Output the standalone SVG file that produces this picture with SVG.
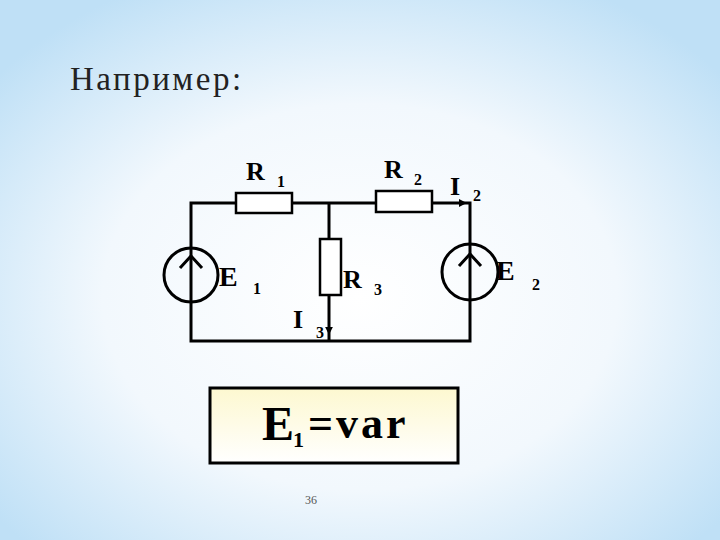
<svg xmlns="http://www.w3.org/2000/svg" width="720" height="540" viewBox="0 0 720 540">
<defs>
<radialGradient id="bg" cx="0.5" cy="0.55" r="0.65">
<stop offset="0" stop-color="#ffffff"/><stop offset="0.55" stop-color="#f2f8fd"/><stop offset="1" stop-color="#bfe0f6"/>
</radialGradient>
<linearGradient id="fb" x1="0" y1="0" x2="0" y2="1">
<stop offset="0" stop-color="#fdf8d0"/><stop offset="1" stop-color="#ffffff"/>
</linearGradient>
<marker id="ar" viewBox="0 0 10 10" refX="9" refY="5" markerWidth="4" markerHeight="4" orient="auto"><path d="M0,0 L10,5 L0,10 z" fill="#000"/></marker>
<style>
.w{stroke:#000;stroke-width:3;fill:none}
.r{stroke:#000;stroke-width:2.5;fill:#fff}
.t{font-family:'Liberation Serif',serif;font-weight:bold;fill:#000}
</style>
</defs>
<rect width="720" height="540" fill="url(#bg)"/>
<text x="70" y="90" font-family="Liberation Serif, DejaVu Serif, serif" font-size="33" fill="#222" letter-spacing="2.5">Например:</text>
<g id="connectors">
<polyline class="w" points="191,248 191,203 470,203 470,244"/>
<polyline class="w" points="191,302 191,341 470,341 470,300"/>
<line class="w" x1="329" y1="203" x2="329" y2="341"/>
<line x1="432" y1="203" x2="466" y2="203" stroke="#000" stroke-width="2" marker-end="url(#ar)"/>
<line x1="329" y1="320" x2="329" y2="334" stroke="#000" stroke-width="2" marker-end="url(#ar)"/>
</g>
<g id="R1"><rect class="r" x="236" y="193" width="56" height="20"/><text class="t" x="246" y="180" font-size="26">R</text><text class="t" x="277" y="187" font-size="16">1</text></g>
<g id="R2"><rect class="r" x="376" y="191" width="56" height="21"/><text class="t" x="384" y="178" font-size="26">R</text><text class="t" x="414" y="185" font-size="16">2</text></g>
<g id="R3"><rect class="r" x="320" y="239" width="21" height="56"/><text class="t" x="343" y="288" font-size="26">R</text><text class="t" x="374" y="295" font-size="16">3</text></g>
<g id="E1"><circle cx="191" cy="275" r="27" class="w"/><line class="w" x1="191" y1="248" x2="191" y2="302"/><polyline class="w" points="180,268 191,256 202,268"/><text class="t" x="219" y="286" font-size="28">E</text><text class="t" x="253" y="294" font-size="16">1</text></g>
<g id="E2"><circle cx="470" cy="272" r="28" class="w"/><line class="w" x1="470" y1="244" x2="470" y2="300"/><polyline class="w" points="459,266 470,254 481,266"/><text class="t" x="496" y="280" font-size="28">E</text><text class="t" x="532" y="290" font-size="16">2</text></g>
<g id="I2"><text class="t" x="450" y="195" font-size="26">I</text><text class="t" x="473" y="201" font-size="16">2</text></g>
<g id="I3"><text class="t" x="293" y="328" font-size="26">I</text><text class="t" x="316" y="338" font-size="16">3</text></g>
<g id="formula"><rect x="210" y="388" width="248" height="75" fill="url(#fb)" stroke="#000" stroke-width="3"/>
<text class="t" x="262" y="440" font-size="48">E</text><text class="t" x="293" y="447" font-size="22">1</text><text class="t" x="308" y="438" font-size="44" letter-spacing="3">=var</text></g>
<text x="305" y="504" font-family="'Liberation Serif', serif" font-size="12" fill="#555">36</text>
</svg>
